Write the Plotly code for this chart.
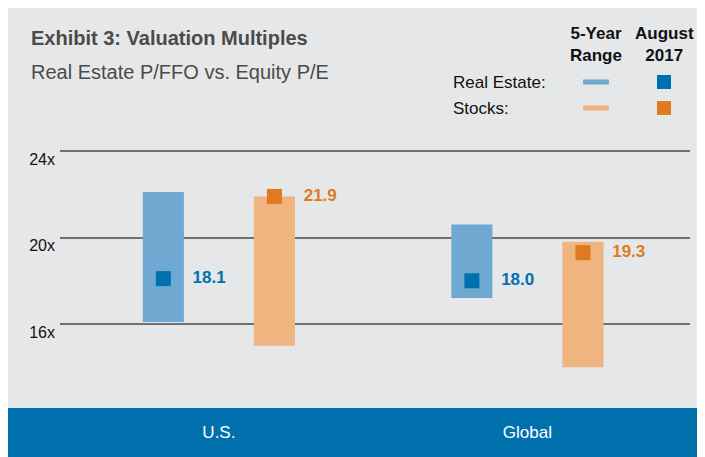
import plotly.graph_objects as go

# ---------------- data ----------------
categories = ["U.S.", "Global"]
re_low = [16.1, 17.2]
re_high = [22.1, 20.6]
st_low = [15.0, 14.0]
st_high = [21.9, 19.8]
re_now = [18.1, 18.0]
st_now = [21.9, 19.3]
tick_vals = [16, 20, 24]
tick_text = ["16x", "20x", "24x"]

# ---------------- style ----------------
OFF = 8  # page body margin
W, H = 705 - OFF, 457 - OFF
ML, MT = 60 - OFF, 130 - OFF
MR = W - ML - 630
MB = H - MT - 270
PW, PH = W - ML - MR, H - MT - MB
BG = "#e6e7e8"
BAND = "#0071ad"
RE_BAR = "#6fa8d0"
ST_BAR = "#efb47f"
RE_DOT = "#0070ae"
ST_DOT = "#e07a1f"
BASE = "Liberation Sans, Arial, sans-serif"


def px(x):
    """page x pixel -> paper coordinate"""
    return (x - OFF - ML) / PW


def py(y):
    """page y pixel -> paper coordinate"""
    return (MT + PH - (y - OFF)) / PH


fig = go.Figure()

fig.add_trace(go.Bar(
    x=categories, y=[h - l for h, l in zip(re_high, re_low)], base=re_low,
    marker=dict(color=RE_BAR, line=dict(width=0)), offsetgroup="re",
    alignmentgroup="a", name="Real Estate range", hoverinfo="skip"))
fig.add_trace(go.Bar(
    x=categories, y=[h - l for h, l in zip(st_high, st_low)], base=st_low,
    marker=dict(color=ST_BAR, line=dict(width=0)), offsetgroup="st",
    alignmentgroup="a", name="Stocks range", hoverinfo="skip"))

PAD = "\u00a0" * 4
fig.add_trace(go.Scatter(
    x=categories, y=re_now, mode="markers+text", offsetgroup="re",
    alignmentgroup="a",
    marker=dict(symbol="square", size=15, color=RE_DOT),
    text=[PAD + f"{v:.1f}" for v in re_now],
    textposition="middle right",
    textfont=dict(family=BASE, size=17, color=RE_DOT, weight="bold"),
    name="Real Estate Aug 2017"))
fig.add_trace(go.Scatter(
    x=categories, y=st_now, mode="markers+text", offsetgroup="st",
    alignmentgroup="a",
    marker=dict(symbol="square", size=15, color=ST_DOT),
    text=[PAD + f"{v:.1f}" for v in st_now],
    textposition="middle right",
    textfont=dict(family=BASE, size=17, color=ST_DOT, weight="bold"),
    name="Stocks Aug 2017"))

shapes = [
    # blue band
    dict(type="rect", xref="paper", yref="paper", x0=px(0), x1=px(760),
         y0=py(490), y1=py(408), fillcolor=BAND, line=dict(width=0), layer="below"),
    # legend symbols
    dict(type="line", xref="paper", yref="paper", x0=px(583), x1=px(609),
         y0=py(82), y1=py(82), line=dict(color=RE_BAR, width=5)),
    dict(type="line", xref="paper", yref="paper", x0=px(583), x1=px(609),
         y0=py(108), y1=py(108), line=dict(color=ST_BAR, width=5)),
    dict(type="rect", xref="paper", yref="paper", x0=px(657), x1=px(671),
         y0=py(89), y1=py(75), fillcolor=RE_DOT, line=dict(width=0)),
    dict(type="rect", xref="paper", yref="paper", x0=px(657), x1=px(671),
         y0=py(115), y1=py(101), fillcolor=ST_DOT, line=dict(width=0)),
]

annotations = [
    dict(text="<b>Exhibit 3: Valuation Multiples</b>", x=px(29), y=py(38),
         font=dict(size=20, color="#4b4b49", family=BASE)),
    dict(text="Real Estate P/FFO vs. Equity P/E", x=px(29), y=py(72),
         font=dict(size=20, color="#4b4b49", family=BASE)),
    dict(text="<b>5-Year<br>Range</b>", x=px(596), y=py(45), xanchor="center",
         font=dict(size=17, color="#111111", family=BASE)),
    dict(text="<b>August<br>2017</b>", x=px(664), y=py(45), xanchor="center",
         font=dict(size=17, color="#111111", family=BASE)),
    dict(text="Real Estate:", x=px(451), y=py(82),
         font=dict(size=17, color="#111111", family=BASE)),
    dict(text="Stocks:", x=px(451), y=py(108),
         font=dict(size=17, color="#111111", family=BASE)),
]
for a in annotations:
    a.setdefault("xanchor", "left")
    a.update(xref="paper", yref="paper", yanchor="middle", showarrow=False)

fig.update_layout(
    width=W, height=H,
    margin=dict(l=ML, r=MR, t=MT, b=MB, pad=0),
    paper_bgcolor=BG, plot_bgcolor="rgba(0,0,0,0)",
    barmode="group", bargap=0.28, bargroupgap=0.63,
    scattermode="group", scattergap=0.28,
    showlegend=False,
    shapes=shapes, annotations=annotations,
    font=dict(family=BASE, color="#111111"),
)
fig.update_xaxes(
    range=[-0.515, 1.527], showgrid=False, zeroline=False, showline=False,
    ticks="", tickfont=dict(size=17, color="white", family=BASE),
    ticklabelstandoff=20, fixedrange=True,
)
fig.update_yaxes(
    range=[12.49, 24.97], tickvals=tick_vals, ticktext=tick_text,
    showgrid=True, gridcolor="#707070", gridwidth=1.6, zeroline=False,
    showline=False, ticks="", tickfont=dict(size=16, color="#111111", family=BASE),
    ticklabelshift=8, ticklabelstandoff=4, fixedrange=True,
)

fig.write_html("out.html")
